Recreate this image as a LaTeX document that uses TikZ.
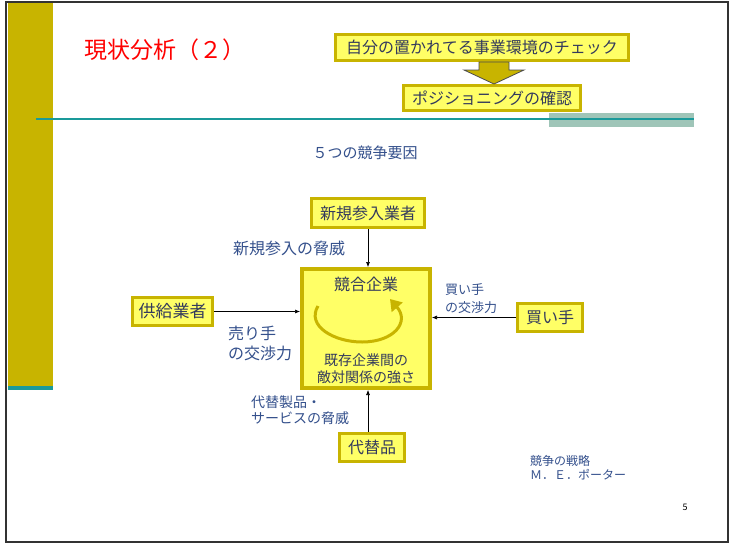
\documentclass[tikz,border=0pt]{standalone}
\usepackage{fontspec}
\setmainfont{Noto Sans CJK JP}
\usetikzlibrary{arrows.meta}
\definecolor{olivec}{HTML}{C8B400}
\definecolor{yelfill}{HTML}{FFFF66}
\definecolor{boxtext}{HTML}{333A5C}
\definecolor{labtext}{HTML}{34508C}
\definecolor{tealc}{HTML}{1A9A9A}
\definecolor{greyteal}{HTML}{9FC5B8}
\newcommand{\fs}[2]{\fontsize{#1}{#2}\selectfont}
\begin{document}
\begin{tikzpicture}[x=1pt,y=-1pt,
  ybox/.style={draw=olivec, line width=3pt, fill=yelfill, text=boxtext, inner sep=0pt, font=\fs{16}{19}},
  lab/.style={text=labtext, inner sep=0pt, align=left, anchor=west},
  arr/.style={-{Latex[length=5pt,width=4pt]}, line width=0.6pt, black}]
\useasboundingbox (0,0) rectangle (731,544);
\fill[white] (0,0) rectangle (731,544);
% left bar and frame
\fill[olivec] (8,3) rectangle (53,386);
\fill[tealc] (8,386) rectangle (53,390);
\fill[greyteal] (549,113) rectangle (694,127);
\draw[tealc, line width=1.2pt] (36,119) -- (694,119);
\draw[black!80, line width=2pt] (6,2) rectangle (728,542);
% title
\node[text=red, anchor=west, inner sep=0pt, font=\fs{23}{26}] (title) at (84,50) {現状分析（２）};
% top boxes
\node[ybox, minimum width=293pt, minimum height=26pt] (chk) at (482,47.5) {自分の置かれてる事業環境のチェック};
\node[ybox, minimum width=177pt, minimum height=25pt] (pos) at (492,98) {ポジショニングの確認};
\draw[black!70, fill=olivec, line width=0.8pt]
  (479,62) -- (509,62) -- (509,70) -- (524,70) -- (494,84) -- (464,70) -- (479,70) -- cycle;
% heading
\node[text=labtext, inner sep=0pt, font=\fs{15}{18}] (five) at (365,153) {５つの競争要因};
% five forces boxes
\node[ybox, minimum width=113pt, minimum height=29pt] (new) at (368,213) {新規参入業者};
\node[ybox, line width=4pt, minimum width=128pt, minimum height=119pt] (comp) at (366,328.5) {};
\node[ybox, minimum width=80pt, minimum height=28pt, font=\fs{17}{19}] (sup) at (172.5,311.5) {供給業者};
\node[ybox, minimum width=65pt, minimum height=28pt] (buy) at (550,317.5) {買い手};
\node[ybox, minimum width=65pt, minimum height=28pt] (sub) at (372,447.5) {代替品};
% center box texts
\node[text=boxtext, inner sep=0pt, font=\fs{16}{19}] (compt) at (366,284) {競合企業};
\node[text=boxtext, inner sep=0pt, align=center, font=\fs{14}{17}] (rival) at (366,368.5) {既存企業間の\\敵対関係の強さ};
% circular arrow
\draw[olivec, line width=3pt, -{Triangle[length=11pt,width=14pt]}]
  (318,306) .. controls (306,326) and (334,342) .. (362,342)
  .. controls (394,342) and (410,322) .. (390,299);
% arrows
\draw[arr] (new.south) -- (new.south |- comp.north);
\draw[arr] (sub.north -| new.south) -- (new.south |- comp.south);
\draw[arr] (sup.east) -- (sup.east -| comp.west);
\draw[arr] (buy.west) -- (buy.west -| comp.east);
% labels
\node[lab, font=\fs{16}{19}] (l1) at (233,248) {新規参入の脅威};
\node[lab, font=\fs{16}{20}] (l2) at (228,343) {売り手\\の交渉力};
\node[lab, font=\fs{13}{18}] (l3) at (445,299) {買い手\\の交渉力};
\node[lab, font=\fs{14}{16.5}] (l4) at (251,410) {代替製品・\\サービスの脅威};
% footnote
\node[lab, font=\fs{12}{14}] (ref) at (530,468) {競争の戦略\\Ｍ．Ｅ．ポーター};
\node[inner sep=0pt, font=\fs{9}{11}] (pg) at (685,507) {5};
\end{tikzpicture}
\end{document}
